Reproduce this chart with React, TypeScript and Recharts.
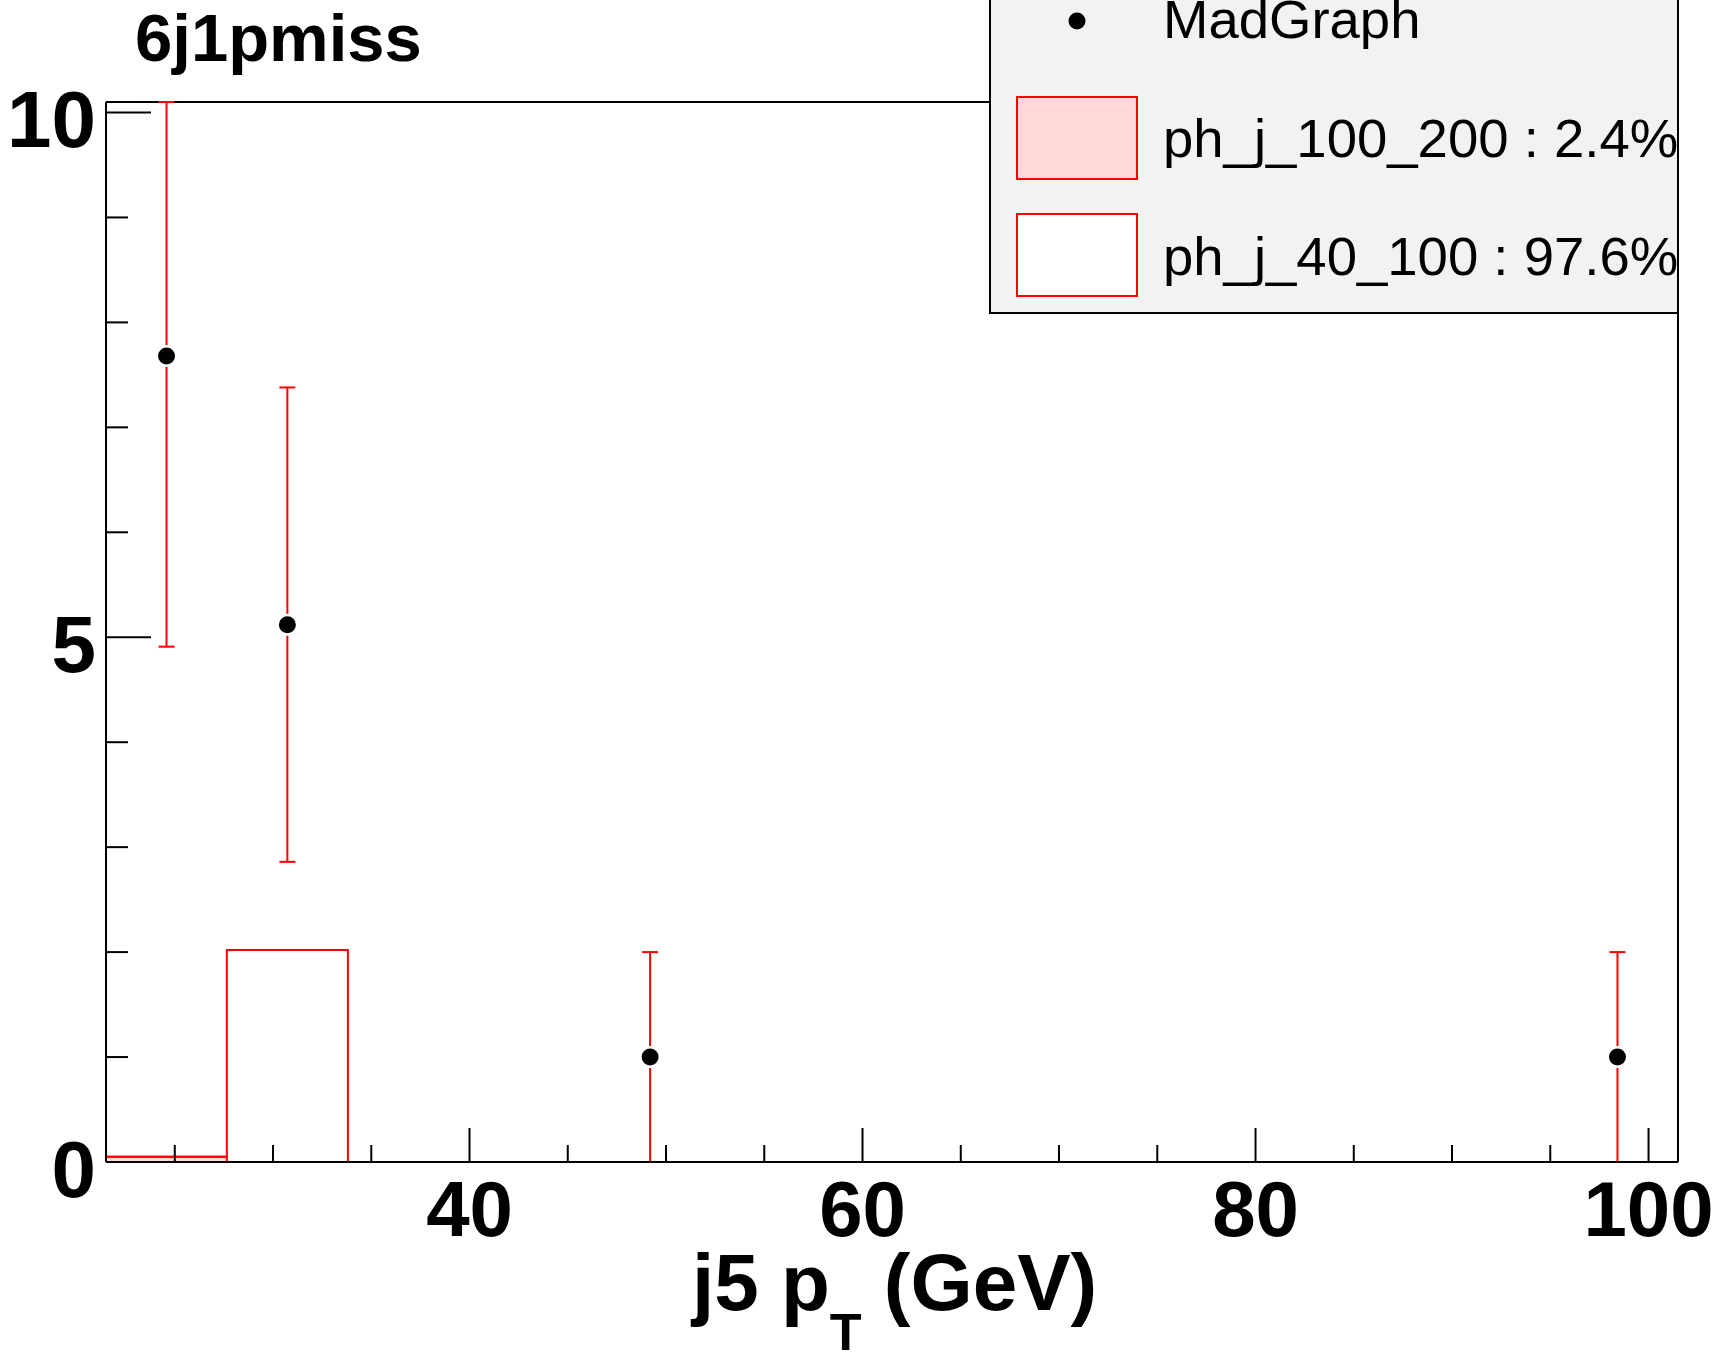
import React from "react";
import {
  ComposedChart,
  XAxis,
  YAxis,
  Area,
  Line,
  Scatter,
  ErrorBar,
  ReferenceLine,
} from "recharts";

// ---- data ----
const binEdges = [21.5, 27.65, 33.81, 39.96, 46.12, 52.27, 58.42, 64.58, 70.73, 76.88, 83.04, 89.19, 95.35, 101.5];
const ph_j_100_200 = [0.05, 0, 0, 0, 0, 0, 0, 0, 0, 0, 0, 0, 0];
const ph_j_40_100 = [0, 2.02, 0, 0, 0, 0, 0, 0, 0, 0, 0, 0, 0];

const madX = [24.58, 30.73, 49.19, 98.42];
const madY = [7.68, 5.12, 1.0, 1.0];
const madErrLow = [2.77, 2.26, 1.0, 1.0];
const madErrHigh = [2.42, 2.26, 1.0, 1.0];

const xTicks = [25, 30, 35, 40, 45, 50, 55, 60, 65, 70, 75, 80, 85, 90, 95, 100];
const xMajor = [40, 60, 80, 100];
const yTicks = [0, 1, 2, 3, 4, 5, 6, 7, 8, 9, 10];
const yMajor = [0, 5, 10];

const X_DOMAIN: [number, number] = [21.5, 101.5];
const Y_DOMAIN: [number, number] = [0, 10.1];

const legendItems = [
  { label: "MadGraph", kind: "dot" },
  { label: "ph_j_100_200 : 2.4%", kind: "pink" },
  { label: "ph_j_40_100 : 97.6%", kind: "white" },
];

const FONT = "'Liberation Sans', Arial, Helvetica, sans-serif";

// build tables for the library
const histData = binEdges.map((e, i) => {
  const k = Math.min(i, ph_j_100_200.length - 1);
  return {
    x: e,
    pink: ph_j_100_200[k],
    total: ph_j_100_200[k] + ph_j_40_100[k],
  };
});

const pointData = madX.map((x, i) => ({
  x,
  y: madY[i],
  err: [madErrLow[i], madErrHigh[i]],
}));

const XTick = (props: any) => {
  const { x, y, payload } = props;
  const v = payload.value;
  const major = xMajor.includes(v);
  return (
    <g>
      <line x1={x} x2={x} y1={y} y2={y - (major ? 34 : 17)} stroke="#000" strokeWidth={2} />
      {major && (
        <text x={x} y={y + 74} textAnchor="middle" fontSize={78} fontWeight="bold" fontFamily={FONT} fill="#000">
          {v}
        </text>
      )}
    </g>
  );
};

const YTick = (props: any) => {
  const { x, y, payload } = props;
  const v = payload.value;
  const major = yMajor.includes(v);
  return (
    <g>
      <line x1={x} x2={x + (major ? 45 : 22)} y1={y} y2={y} stroke="#000" strokeWidth={2} />
      {major && (
        <text x={x - 10} y={y + 35} textAnchor="end" fontSize={80} fontWeight="bold" fontFamily={FONT} fill="#000">
          {v}
        </text>
      )}
    </g>
  );
};

const Dot = (props: any) => {
  const { cx, cy } = props;
  return (
    <g>
      <circle cx={cx} cy={cy} r={11} fill="#fff" />
      <circle cx={cx} cy={cy} r={8.5} fill="#000" />
    </g>
  );
};

export default function App() {
  return (
    <div style={{ position: "absolute", left: 0, top: 0, width: 1718, height: 1353, background: "#fff" }}>
      <ComposedChart
        width={1718}
        height={1353}
        margin={{ top: 102, right: 40, left: 0, bottom: 91 }}
      >
        <XAxis
          dataKey="x"
          type="number"
          domain={X_DOMAIN}
          allowDataOverflow
          ticks={xTicks}
          interval={0}
          tick={<XTick />}
          tickSize={0}
          tickMargin={0}
          tickLine={false}
          height={100}
          axisLine={{ stroke: "#000", strokeWidth: 2 }}
        />
        <YAxis
          type="number"
          domain={Y_DOMAIN}
          allowDataOverflow
          ticks={yTicks}
          interval={0}
          tick={<YTick />}
          tickSize={0}
          tickMargin={0}
          tickLine={false}
          width={106}
          axisLine={{ stroke: "#000", strokeWidth: 2 }}
        />
        <ReferenceLine y={Y_DOMAIN[1]} stroke="#000" strokeWidth={2} />
        <ReferenceLine x={X_DOMAIN[1]} stroke="#000" strokeWidth={2} />
        <Area
          data={histData}
          dataKey="pink"
          type="stepAfter"
          fill="#ffd9d9"
          fillOpacity={1}
          stroke="#ff0000"
          strokeWidth={2}
          isAnimationActive={false}
          dot={false}
          activeDot={false}
        />
        <Line
          data={histData}
          dataKey="total"
          type="stepAfter"
          stroke="#ff0000"
          strokeWidth={2}
          isAnimationActive={false}
          dot={false}
          activeDot={false}
        />
        <Scatter data={pointData} dataKey="y" shape={<Dot />} isAnimationActive={false}>
          <ErrorBar dataKey="err" direction="y" width={8} stroke="#ff0000" strokeWidth={2} isAnimationActive={false} />
        </Scatter>
      </ComposedChart>

      <svg
        width={1718}
        height={1353}
        style={{ position: "absolute", left: 0, top: 0, pointerEvents: "none" }}
      >
        <text x={135} y={61} fontSize={67} fontWeight="bold" fontFamily={FONT} fill="#000">
          6j1pmiss
        </text>

        <text x={692} y={1310} fontSize={80} fontWeight="bold" fontFamily={FONT} fill="#000">
          j5 p
          <tspan dy={40} fontSize={52}>T</tspan>
          <tspan dy={-40}> (GeV)</tspan>
        </text>

        <rect x={990} y={-10} width={688} height={323} fill="#f2f2f2" stroke="#000" strokeWidth={2} />
        {legendItems.map((it, i) => {
          const cy = [21, 138, 255][i];
          const base = [38, 157, 275][i];
          return (
            <g key={it.label}>
              {it.kind === "dot" && <circle cx={1077} cy={cy} r={8.5} fill="#000" />}
              {it.kind !== "dot" && (
                <rect
                  x={1017}
                  y={cy - 41}
                  width={120}
                  height={82}
                  fill={it.kind === "pink" ? "#ffd9d9" : "#fff"}
                  stroke="#ff0000"
                  strokeWidth={2}
                />
              )}
              <text x={1163} y={base} fontSize={54.5} fontFamily={FONT} fill="#000">
                {it.label}
              </text>
            </g>
          );
        })}
      </svg>
    </div>
  );
}
